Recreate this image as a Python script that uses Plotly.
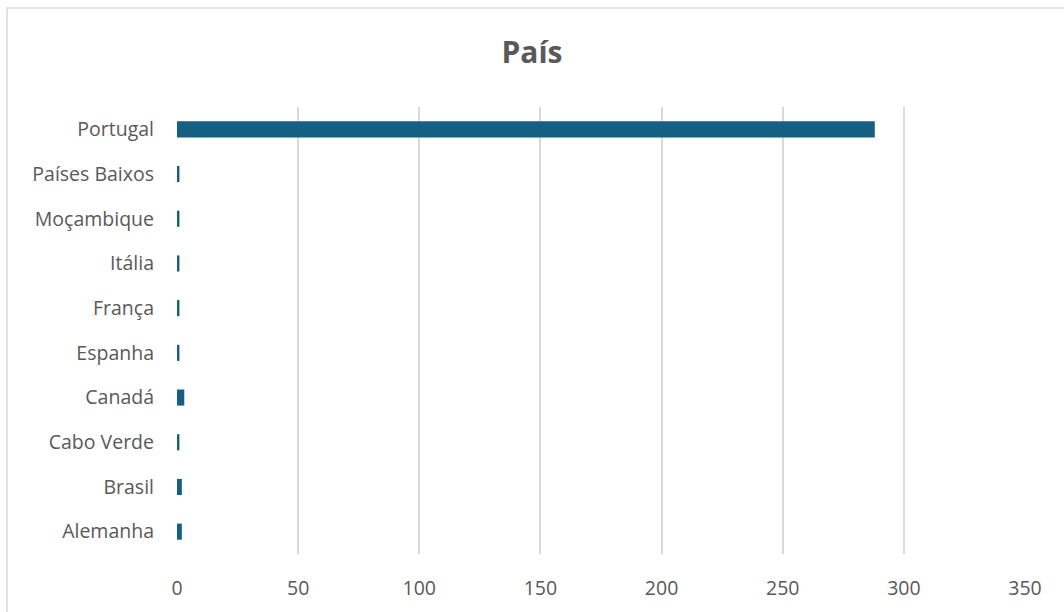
import plotly.graph_objects as go

paises = ["Alemanha", "Brasil", "Cabo Verde", "Canadá", "Espanha",
          "França", "Itália", "Moçambique", "Países Baixos", "Portugal"]
contagem = [2, 2, 1, 3, 1, 1, 1, 1, 1, 288]
x_ticks = [0, 50, 100, 150, 200, 250, 300, 350]

L, R, T, B = 177, 39, 107, 58
W, H = 1064, 612
pw, ph = W - L - R, H - T - B

fig = go.Figure()
fig.add_trace(go.Bar(
    x=contagem, y=paises, orientation="h",
    marker=dict(color="#156082", line=dict(width=0)),
))

fig.update_layout(
    width=W, height=H,
    margin=dict(l=L, r=R, t=T, b=B),
    paper_bgcolor="white", plot_bgcolor="white",
    bargap=0.64,
    showlegend=False,
    font=dict(family="Open Sans, Liberation Sans, sans-serif", color="#595959", size=19.5),
    title=dict(text="<b>País</b>", x=0.5, xanchor="center", y=1 - 52 / H, yanchor="middle",
               font=dict(size=30, color="#595959")),
    shapes=[dict(type="rect", xref="paper", yref="paper",
                 x0=(7 - L) / pw, x1=1.2, y0=-0.3, y1=(H - B - 8) / ph,
                 line=dict(color="#d9d9d9", width=1.5), fillcolor="rgba(0,0,0,0)", layer="below")],
)
fig.update_xaxes(
    range=[0, 350], tickvals=x_ticks, showgrid=True, gridcolor="#d9d9d9", gridwidth=1.5,
    zeroline=False, showline=False, ticks="", ticklabelstandoff=20,
)
fig.update_yaxes(
    categoryorder="array", categoryarray=paises,
    showgrid=False, zeroline=False, showline=False, ticks="", ticklabelstandoff=22,
)

# the page's default body margin would shift the chart by 8px
fig.write_html("out.html", config={"displayModeBar": False},
               post_script="document.body.style.margin='0';")
